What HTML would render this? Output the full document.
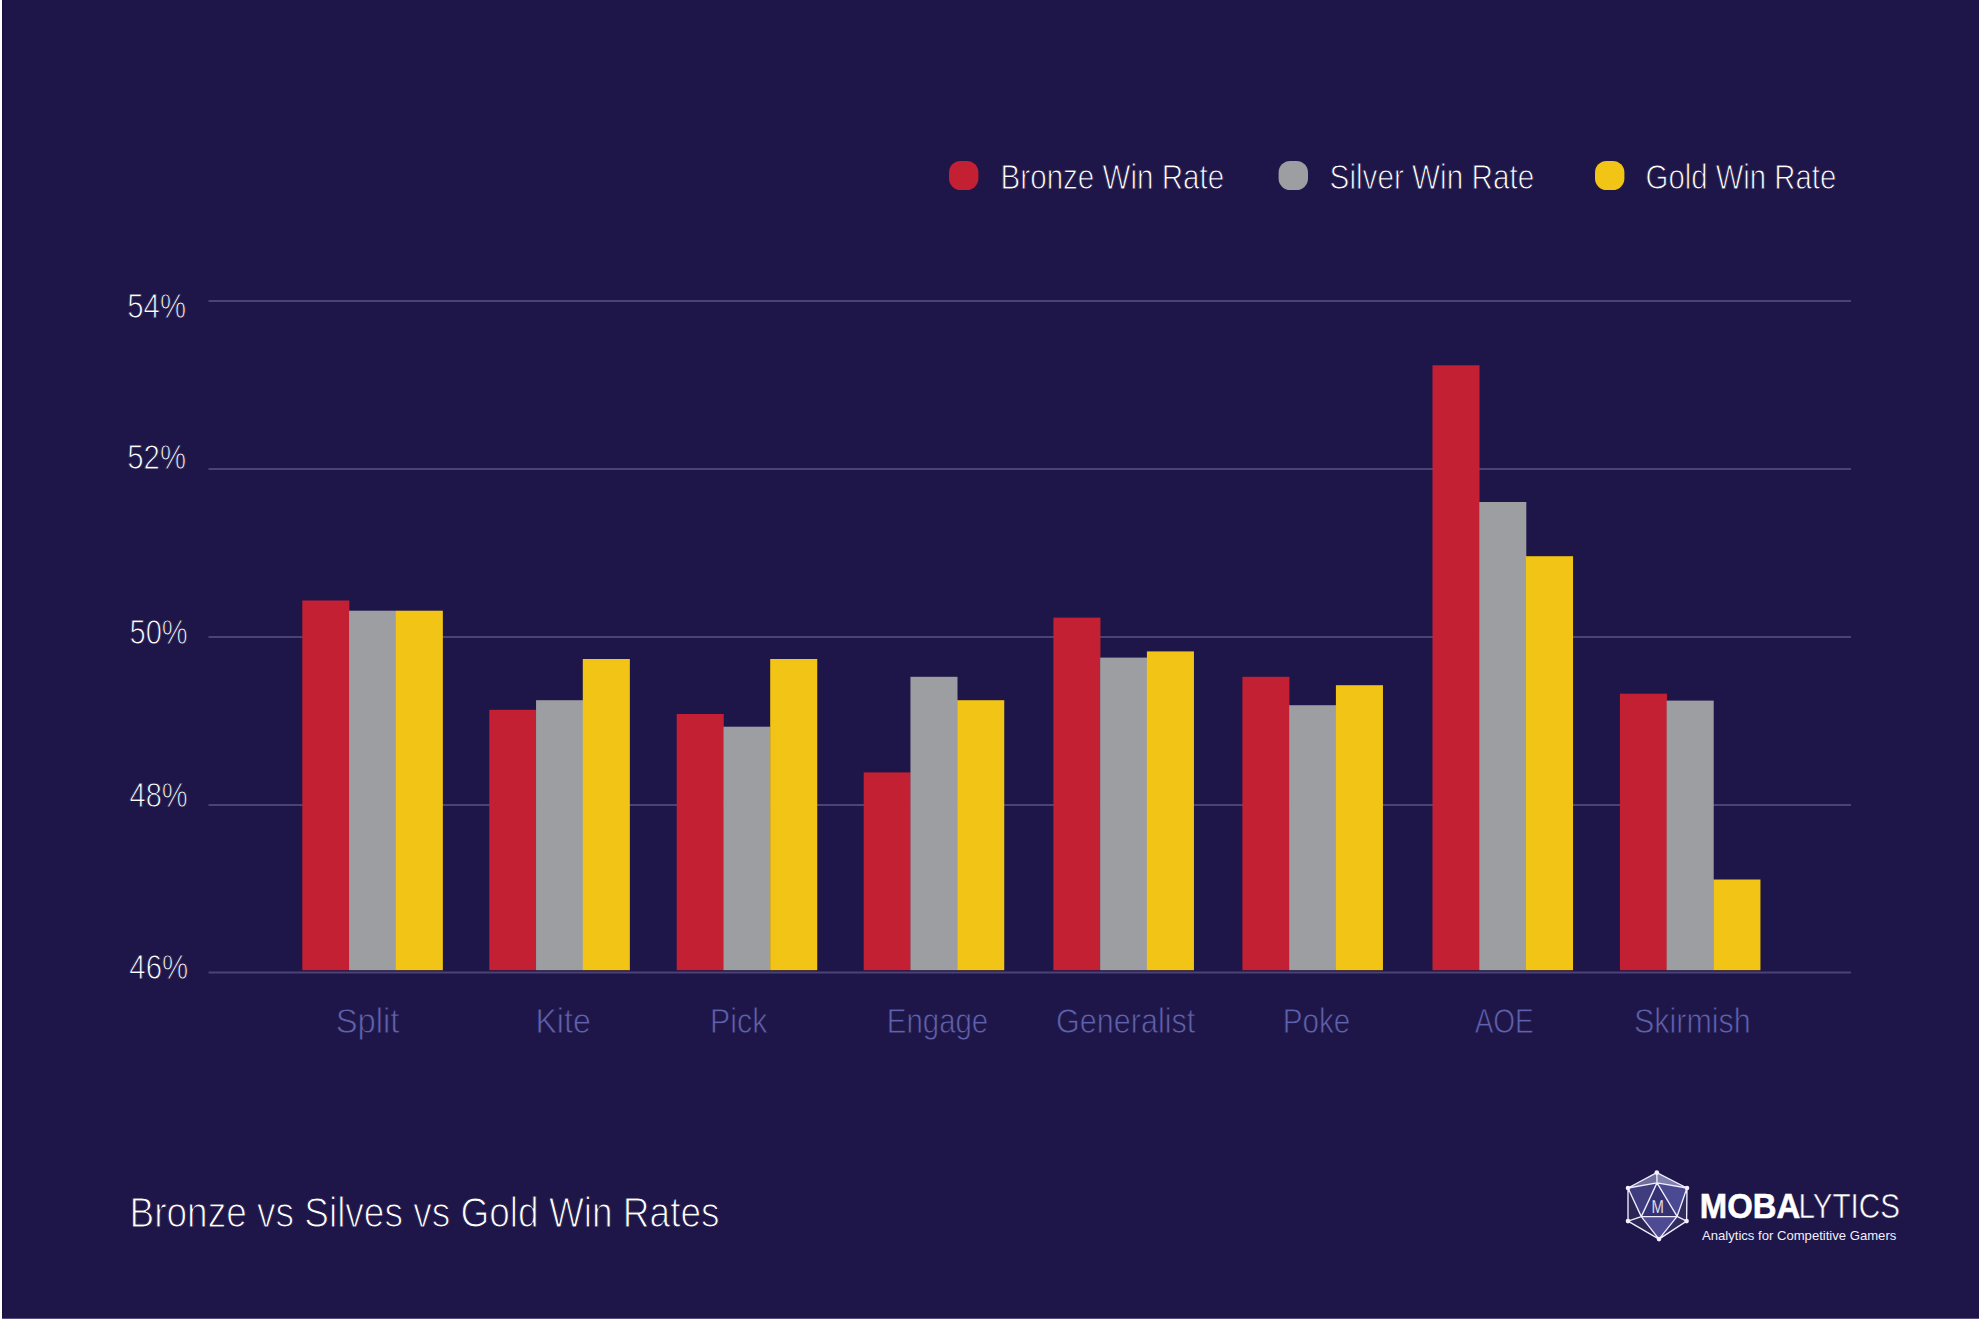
<!DOCTYPE html>
<html lang="en">
<head>
<meta charset="utf-8">
<title>Bronze vs Silves vs Gold Win Rates</title>
<style>
html,body{margin:0;padding:0;background:#1e1548;}
body{width:1979px;height:1319px;overflow:hidden;font-family:"Liberation Sans",sans-serif;}
svg{display:block;}
text{font-family:"Liberation Sans",sans-serif;}
</style>
</head>
<body>
<svg width="1979" height="1319" viewBox="0 0 1979 1319">
<rect x="0" y="0" width="1979" height="1319" fill="#1e1548"/>
<rect x="0" y="0" width="2" height="1319" fill="#ffffff"/>
<rect x="2" y="0" width="1.5" height="1319" fill="#1a1438"/>
<rect x="2" y="1318" width="1977" height="1" fill="#5a4f7e"/>

<rect x="208.5" y="300" width="1642.5" height="2" fill="#4b4276"/>
<rect x="208.5" y="468" width="1642.5" height="2" fill="#4b4276"/>
<rect x="208.5" y="636" width="1642.5" height="2" fill="#4b4276"/>
<rect x="208.5" y="804" width="1642.5" height="2" fill="#4b4276"/>
<rect x="208.5" y="971.5" width="1642.5" height="2" fill="#4b4276"/>
<rect x="302.30" y="600.50" width="47.05" height="369.70" fill="#c32033"/>
<rect x="349.05" y="610.70" width="47.05" height="359.50" fill="#9d9ea2"/>
<rect x="395.80" y="610.70" width="47.05" height="359.50" fill="#f2c415"/>
<rect x="489.30" y="709.80" width="47.05" height="260.40" fill="#c32033"/>
<rect x="536.05" y="700.20" width="47.05" height="270.00" fill="#9d9ea2"/>
<rect x="582.80" y="659.00" width="47.05" height="311.20" fill="#f2c415"/>
<rect x="676.70" y="714.00" width="47.05" height="256.20" fill="#c32033"/>
<rect x="723.45" y="726.70" width="47.05" height="243.50" fill="#9d9ea2"/>
<rect x="770.20" y="659.00" width="47.05" height="311.20" fill="#f2c415"/>
<rect x="863.70" y="772.40" width="47.05" height="197.80" fill="#c32033"/>
<rect x="910.45" y="676.80" width="47.05" height="293.40" fill="#9d9ea2"/>
<rect x="957.20" y="700.20" width="47.05" height="270.00" fill="#f2c415"/>
<rect x="1053.40" y="617.60" width="47.05" height="352.60" fill="#c32033"/>
<rect x="1100.15" y="657.60" width="47.05" height="312.60" fill="#9d9ea2"/>
<rect x="1146.90" y="651.40" width="47.05" height="318.80" fill="#f2c415"/>
<rect x="1242.40" y="676.80" width="47.05" height="293.40" fill="#c32033"/>
<rect x="1289.15" y="705.20" width="47.05" height="265.00" fill="#9d9ea2"/>
<rect x="1335.90" y="685.20" width="47.05" height="285.00" fill="#f2c415"/>
<rect x="1432.50" y="365.30" width="47.05" height="604.90" fill="#c32033"/>
<rect x="1479.25" y="502.00" width="47.05" height="468.20" fill="#9d9ea2"/>
<rect x="1526.00" y="556.20" width="47.05" height="414.00" fill="#f2c415"/>
<rect x="1619.90" y="693.70" width="47.05" height="276.50" fill="#c32033"/>
<rect x="1666.65" y="700.60" width="47.05" height="269.60" fill="#9d9ea2"/>
<rect x="1713.40" y="879.50" width="47.05" height="90.70" fill="#f2c415"/>
<rect x="949" y="161" width="29.4" height="29" rx="11.5" ry="11.5" fill="#c32033"/>
<rect x="1278.6" y="161" width="29.4" height="29" rx="11.5" ry="11.5" fill="#9d9ea2"/>
<rect x="1595" y="161" width="29.4" height="29" rx="11.5" ry="11.5" fill="#f2c415"/>
<text x="127.3" y="317.8" font-size="35" font-weight="normal" fill="#ffffff" stroke="#1e1548" stroke-width="1.0" textLength="58.7" lengthAdjust="spacingAndGlyphs">54%</text>
<text x="127.3" y="469.3" font-size="35" font-weight="normal" fill="#ffffff" stroke="#1e1548" stroke-width="1.0" textLength="58.7" lengthAdjust="spacingAndGlyphs">52%</text>
<text x="129.5" y="644.3" font-size="35" font-weight="normal" fill="#ffffff" stroke="#1e1548" stroke-width="1.0" textLength="58.2" lengthAdjust="spacingAndGlyphs">50%</text>
<text x="129.5" y="807.3" font-size="35" font-weight="normal" fill="#ffffff" stroke="#1e1548" stroke-width="1.0" textLength="58.2" lengthAdjust="spacingAndGlyphs">48%</text>
<text x="129.3" y="978.7" font-size="35" font-weight="normal" fill="#ffffff" stroke="#1e1548" stroke-width="1.0" textLength="59.0" lengthAdjust="spacingAndGlyphs">46%</text>
<text x="1000.6" y="189.3" font-size="35" font-weight="normal" fill="#ffffff" stroke="#1e1548" stroke-width="1.0" textLength="223.6" lengthAdjust="spacingAndGlyphs">Bronze Win Rate</text>
<text x="1329.6" y="189.3" font-size="35" font-weight="normal" fill="#ffffff" stroke="#1e1548" stroke-width="1.0" textLength="204.6" lengthAdjust="spacingAndGlyphs">Silver Win Rate</text>
<text x="1645.6" y="189.3" font-size="35" font-weight="normal" fill="#ffffff" stroke="#1e1548" stroke-width="1.0" textLength="190.6" lengthAdjust="spacingAndGlyphs">Gold Win Rate</text>
<text x="335.7" y="1033.2" font-size="34.2" font-weight="normal" fill="#5f62ae" stroke="#1e1548" stroke-width="0.8" textLength="63.8" lengthAdjust="spacingAndGlyphs">Split</text>
<text x="535.4" y="1033.2" font-size="34.2" font-weight="normal" fill="#5f62ae" stroke="#1e1548" stroke-width="0.8" textLength="55.4" lengthAdjust="spacingAndGlyphs">Kite</text>
<text x="710.1" y="1033.2" font-size="34.2" font-weight="normal" fill="#5f62ae" stroke="#1e1548" stroke-width="0.8" textLength="57.3" lengthAdjust="spacingAndGlyphs">Pick</text>
<text x="886.8" y="1033.2" font-size="34.2" font-weight="normal" fill="#5f62ae" stroke="#1e1548" stroke-width="0.8" textLength="101.4" lengthAdjust="spacingAndGlyphs">Engage</text>
<text x="1056.1" y="1033.2" font-size="34.2" font-weight="normal" fill="#5f62ae" stroke="#1e1548" stroke-width="0.8" textLength="139.1" lengthAdjust="spacingAndGlyphs">Generalist</text>
<text x="1282.7" y="1033.2" font-size="34.2" font-weight="normal" fill="#5f62ae" stroke="#1e1548" stroke-width="0.8" textLength="67.6" lengthAdjust="spacingAndGlyphs">Poke</text>
<text x="1474.7" y="1033.2" font-size="34.2" font-weight="normal" fill="#5f62ae" stroke="#1e1548" stroke-width="0.8" textLength="59.1" lengthAdjust="spacingAndGlyphs">AOE</text>
<text x="1634.0" y="1033.2" font-size="34.2" font-weight="normal" fill="#5f62ae" stroke="#1e1548" stroke-width="0.8" textLength="116.8" lengthAdjust="spacingAndGlyphs">Skirmish</text>
<text x="129.5" y="1226.5" font-size="42" font-weight="normal" fill="#ffffff" stroke="#1e1548" stroke-width="1.2" textLength="590.0" lengthAdjust="spacingAndGlyphs">Bronze vs Silves vs Gold Win Rates</text>
<text x="1699.8" y="1217.6" font-size="35.5" font-weight="bold" fill="#ffffff" textLength="100.4" lengthAdjust="spacingAndGlyphs" stroke="#ffffff" stroke-width="0.6">MOBA</text>
<text x="1798.5" y="1217.6" font-size="35.5" font-weight="normal" fill="#ffffff" stroke="#1e1548" stroke-width="0.6" textLength="101.5" lengthAdjust="spacingAndGlyphs">LYTICS</text>
<text x="1702.0" y="1239.7" font-size="12.6" font-weight="normal" fill="#f1effa" textLength="194.3" lengthAdjust="spacingAndGlyphs">Analytics for Competitive Gamers</text>
<g id="logo-icon">
<polygon points="1656.8,1172.6 1628.0,1188.0 1657.0,1182.9" fill="#6f6d9c"/>
<polygon points="1656.8,1172.6 1687.0,1188.0 1657.0,1182.9" fill="#807fae"/>
<polygon points="1628.0,1188.0 1657.0,1182.9 1641.3,1216.6" fill="#403d7f"/>
<polygon points="1687.0,1188.0 1657.0,1182.9 1677.1,1216.3" fill="#4b4992"/>
<polygon points="1657.0,1182.9 1641.3,1216.6 1677.1,1216.3" fill="#353172"/>
<polygon points="1641.3,1216.6 1677.1,1216.3 1659.0,1239.1" fill="#4e4b94"/>
<polygon points="1628.0,1188.0 1641.3,1216.6 1628.0,1221.1" fill="#2a2552"/>
<polygon points="1687.0,1188.0 1677.1,1216.3 1686.6,1221.1" fill="#2f2b5c"/>
<polygon points="1628.0,1221.1 1641.3,1216.6 1659.0,1239.1" fill="#2a2552"/>
<polygon points="1686.6,1221.1 1677.1,1216.3 1659.0,1239.1" fill="#302c5e"/>
<path d="M1656.8,1172.6L1687.0,1188.0 M1687.0,1188.0L1686.6,1221.1 M1686.6,1221.1L1659.0,1239.1 M1659.0,1239.1L1628.0,1221.1 M1628.0,1221.1L1628.0,1188.0 M1628.0,1188.0L1656.8,1172.6 M1656.8,1172.6L1657.0,1182.9 M1628.0,1188.0L1657.0,1182.9 M1687.0,1188.0L1657.0,1182.9 M1657.0,1182.9L1641.3,1216.6 M1657.0,1182.9L1677.1,1216.3 M1641.3,1216.6L1677.1,1216.3 M1628.0,1188.0L1641.3,1216.6 M1687.0,1188.0L1677.1,1216.3 M1628.0,1221.1L1641.3,1216.6 M1686.6,1221.1L1677.1,1216.3 M1641.3,1216.6L1659.0,1239.1 M1677.1,1216.3L1659.0,1239.1" fill="none" stroke="#efedff" stroke-width="1.35" stroke-linecap="round"/>
<circle cx="1656.8" cy="1172.6" r="2.3" fill="#f4f2ff"/>
<circle cx="1687.0" cy="1188.0" r="2.3" fill="#f4f2ff"/>
<circle cx="1686.6" cy="1221.1" r="2.3" fill="#f4f2ff"/>
<circle cx="1659.0" cy="1239.1" r="2.3" fill="#f4f2ff"/>
<circle cx="1628.0" cy="1221.1" r="2.3" fill="#f4f2ff"/>
<circle cx="1628.0" cy="1188.0" r="2.3" fill="#f4f2ff"/>
<text x="1651.6" y="1212.6" font-size="18.6" fill="#ffffff" stroke="#353172" stroke-width="0.25" textLength="12.4" lengthAdjust="spacingAndGlyphs">M</text>
</g>
</svg>
</body>
</html>
